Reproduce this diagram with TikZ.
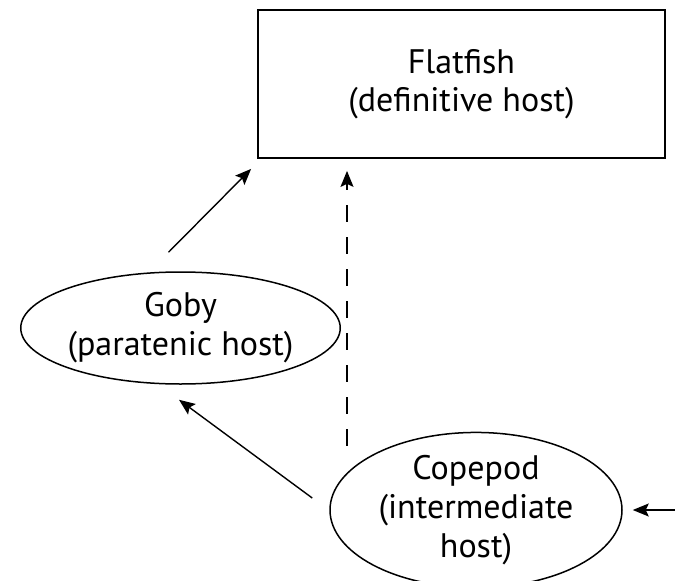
\documentclass[tikz,border=0pt]{standalone}
\usepackage{fontspec}
\setmainfont{PT Sans}
\usetikzlibrary{shapes.geometric,arrows.meta,calc}

\begin{document}
\begin{tikzpicture}[x=1pt, y=-1pt,
    hostbox/.style={draw, line width=1.8pt, minimum width=407pt, minimum height=148pt, align=center, font=\fontsize{34}{38}\selectfont},
    hostell/.style={draw, ellipse, line width=1.5pt, inner sep=0pt, align=center, font=\fontsize{34}{39}\selectfont},
    arr/.style={-{Stealth[length=16pt, width=13pt, inset=3pt]}, line width=1.4pt}
]
\useasboundingbox (0,0) rectangle (675,581);

% Hosts
\node[hostbox] (flatfish) at (461.5,84) {Flatfish\\(definitive host)};
\node[hostell, minimum width=315pt, minimum height=112pt] (goby) at (180.5,328) {Goby\\(paratenic host)};
\node[hostell, minimum width=292pt, minimum height=136pt] (copepod) at (476,510) {Copepod\\(intermediate\\host)};

% Transmission
\coordinate (inflow) at (675,510);
\draw[arr] ($(goby.north)+(-12,-19)$) -- ($(flatfish.south west)+(-6,10)$);
\draw[arr, dash pattern=on 17pt off 15pt] ($(copepod.north)+(-129,14)$) -- ($(flatfish.south)+(-114.5,12)$);
\draw[arr] ($(copepod.west)+(-17,-12)$) -- ($(goby.south)+(-1.5,15)$);
\draw[arr] (inflow) -- ($(copepod.east)+(10,0)$);
\end{tikzpicture}
\end{document}
